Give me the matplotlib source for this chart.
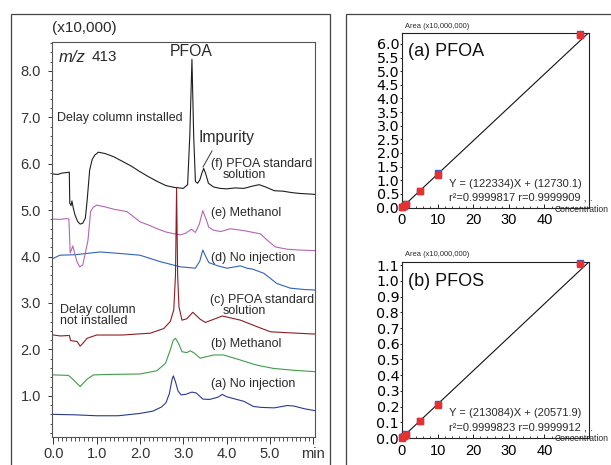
import numpy as np
import matplotlib
matplotlib.use('Agg')
import matplotlib.pyplot as plt
from matplotlib.patches import Rectangle
from matplotlib.lines import Line2D
from matplotlib.ticker import MultipleLocator, FixedLocator

plt.rcParams['font.family'] = ['Liberation Sans', 'DejaVu Sans']

# --- chromatograms, m/z 413: time (min) vs intensity (x10,000) ---
# (f) PFOA standard solution, delay column installed
f_time = [0, 0.1, 0.2, 0.3, 0.37, 0.38, 0.41, 0.43, 0.46, 0.5, 0.56, 0.62, 0.68, 0.74, 0.78,
          0.84, 0.9, 0.96, 1.04, 1.2, 1.4, 1.6, 1.8, 2.0, 2.2, 2.4, 2.6, 2.8, 3.0, 3.1, 3.15,
          3.2, 3.24, 3.28, 3.33, 3.38, 3.43, 3.47, 3.52, 3.58, 3.7, 3.85, 4.0, 4.2, 4.4, 4.6,
          4.75, 4.9, 5.1, 5.3, 5.5, 5.7, 5.9, 6.04]
f_val = [5.78, 5.77, 5.80, 5.81, 5.82, 5.15, 5.10, 5.20, 5.05, 4.90, 4.76, 4.70, 4.72, 4.83, 5.20,
         5.87, 6.10, 6.19, 6.25, 6.22, 6.15, 6.05, 5.95, 5.83, 5.72, 5.62, 5.53, 5.49, 5.47, 5.55, 6.60,
         8.25, 6.60, 5.62, 5.58, 5.65, 5.80, 5.90, 5.78, 5.58, 5.50, 5.47, 5.46, 5.48, 5.47, 5.52,
         5.55, 5.50, 5.42, 5.41, 5.38, 5.36, 5.35, 5.34]
# (e) Methanol, delay column installed
e_time = [0, 0.15, 0.3, 0.36, 0.39, 0.42, 0.45, 0.5, 0.55, 0.61, 0.68, 0.74, 0.8, 0.86, 0.92,
          1.0, 1.2, 1.4, 1.7, 2.0, 2.2, 2.4, 2.6, 2.8, 2.93, 3.05, 3.19, 3.28, 3.37, 3.45, 3.52,
          3.59, 3.7, 3.86, 4.09, 4.4, 4.78, 4.93, 5.12, 5.39, 5.7, 6.04]
e_val = [4.81, 4.80, 4.82, 4.81, 4.08, 4.15, 4.23, 4.05, 3.88, 3.78, 3.82, 4.08, 4.35, 4.97, 5.06,
         5.11, 5.07, 5.02, 4.97, 4.75, 4.68, 4.60, 4.53, 4.49, 4.47, 4.50, 4.59, 4.52, 4.70, 4.99, 4.82,
         4.63, 4.57, 4.54, 4.60, 4.56, 4.49, 4.36, 4.21, 4.16, 4.14, 4.13]
# (d) No injection, delay column installed
d_time = [0, 0.15, 0.5, 1.08, 1.5, 2.0, 2.47, 2.93, 3.28, 3.38, 3.45, 3.52, 3.59, 3.8, 4.01,
          4.32, 4.47, 4.6, 4.86, 5.16, 5.47, 5.8, 6.04]
d_val = [3.96, 4.03, 4.04, 4.10, 4.07, 4.03, 3.89, 3.78, 3.75, 3.90, 4.14, 4.00, 3.87, 3.80, 3.75,
         3.80, 3.75, 3.73, 3.64, 3.42, 3.32, 3.29, 3.28]
# (c) PFOA standard solution, delay column not installed
c_time = [0, 0.16, 0.37, 0.4, 0.55, 0.62, 0.7, 0.78, 1.0, 1.6, 2.24, 2.55, 2.7, 2.78, 2.82,
          2.845, 2.87, 2.9, 2.97, 3.08, 3.22, 3.39, 3.51, 3.9, 4.32, 4.7, 5.01, 5.4, 6.04]
c_val = [2.31, 2.29, 2.30, 2.19, 2.17, 2.07, 2.15, 2.24, 2.31, 2.31, 2.35, 2.45, 2.60, 2.85, 3.60,
         5.47, 3.60, 2.92, 2.63, 2.66, 2.80, 2.65, 2.58, 2.72, 2.63, 2.49, 2.38, 2.36, 2.33]
# (b) Methanol, delay column not installed
b_time = [0, 0.35, 0.47, 0.62, 0.78, 0.93, 1.24, 2.0, 2.39, 2.59, 2.7, 2.77, 2.82, 2.89, 2.97,
          3.08, 3.16, 3.24, 3.39, 3.7, 3.93, 4.32, 4.7, 5.08, 5.55, 6.04]
b_val = [1.45, 1.44, 1.34, 1.20, 1.36, 1.45, 1.46, 1.47, 1.54, 1.70, 1.99, 2.20, 2.24, 2.13, 1.95,
         1.93, 1.97, 1.93, 1.81, 1.88, 1.88, 1.77, 1.66, 1.59, 1.55, 1.52]
# (a) No injection, delay column not installed
a_time = [0, 0.5, 1.0, 1.5, 2.0, 2.3, 2.5, 2.6, 2.68, 2.74, 2.77, 2.82, 2.88, 2.95, 3.05, 3.2,
          3.3, 3.45, 3.6, 3.8, 3.9, 4.0, 4.2, 4.4, 4.62, 4.8, 5.1, 5.4, 5.55, 5.8, 6.04]
a_val = [0.60, 0.59, 0.57, 0.57, 0.62, 0.67, 0.76, 0.85, 1.05, 1.35, 1.43, 1.30, 1.10, 1.02, 1.03,
         1.08, 1.06, 0.93, 0.92, 0.97, 1.03, 0.98, 0.93, 0.88, 0.77, 0.75, 0.74, 0.79, 0.78, 0.72, 0.68]

chrom_xticks = [0, 1, 2, 3, 4, 5, 6]
chrom_xticklabels = ['0.0', '1.0', '2.0', '3.0', '4.0', '5.0', 'min']
chrom_yticks = [1, 2, 3, 4, 5, 6, 7, 8]

# --- calibration curves ---
conc = [0.1, 0.5, 1, 5, 10, 50]
pfoa_area_1 = [0.015, 0.07, 0.14, 0.62, 1.25, 6.35]
pfoa_area_2 = [0.012, 0.065, 0.125, 0.615, 1.21, 6.32]
pfos_area_1 = [0.004, 0.013, 0.024, 0.108, 0.216, 1.115]
pfos_area_2 = [0.003, 0.012, 0.022, 0.107, 0.212, 1.108]
pfoa_fit = (0.122334, 0.00127301)
pfos_fit = (0.0213084, 0.00205719)

W, H = 611, 465
def fx(px):
    return px / W
def fy(py):
    return 1 - py / H

fig = plt.figure(figsize=(W / 100, H / 100), dpi=100)
txt = '#2a2a2a'

# outer frames
fig.add_artist(Rectangle((fx(11), -0.05), fx(330) - fx(11), fy(14) + 0.05, transform=fig.transFigure,
                         fill=False, ec='#444444', lw=0.9))
fig.add_artist(Rectangle((fx(346), -0.05), 0.6, fy(14) + 0.05, transform=fig.transFigure,
                         fill=False, ec='#444444', lw=0.9))

# ---------------- chromatogram ----------------
ax = fig.add_axes([fx(52), fy(437), fx(315) - fx(52), fy(42) - fy(437)])
ax.plot(a_time, a_val, color='#283a8f', lw=0.8)
ax.plot(b_time, b_val, color='#3f9d4a', lw=0.8)
ax.plot(d_time, d_val, color='#3163b8', lw=0.8)
ax.plot(e_time, e_val, color='#b565b5', lw=0.8)
ax.plot(f_time, f_val, color='#1e1e1e', lw=0.8)
ax.plot(c_time, c_val, color='#8c1d24', lw=0.8)
ax.set_xlim(-0.03, 6.04)
ax.set_ylim(0.112, 8.625)
ax.xaxis.set_major_locator(FixedLocator(chrom_xticks))
ax.set_xticklabels(chrom_xticklabels)
ax.xaxis.set_minor_locator(MultipleLocator(0.1))
ax.set_yticks(chrom_yticks)
ax.set_yticklabels(['%.1f' % v for v in chrom_yticks])
ax.yaxis.set_minor_locator(MultipleLocator(0.2))
ax.tick_params(axis='x', which='major', length=5, width=0.7, pad=2, labelsize=10.5, colors='#333333')
ax.tick_params(axis='x', which='minor', length=3, width=0.6, colors='#333333')
ax.tick_params(axis='y', which='major', length=3, width=0.7, pad=5, labelsize=10.5, colors='#333333')
ax.tick_params(axis='y', which='minor', length=1.5, width=0.6, colors='#333333')
for s in ax.spines.values():
    s.set_color('#555555')
    s.set_linewidth(0.8)

fig.text(fx(52), fy(28), '(x10,000)', fontsize=11, color=txt, va='center')
fig.text(fx(59), fy(57), 'm/z', fontsize=12, style='italic', color=txt, va='center')
fig.text(fx(92), fy(57), '413', fontsize=11, color=txt, va='center')
fig.text(fx(191), fy(52), 'PFOA', fontsize=11.3, color=txt, va='center', ha='center')
fig.text(fx(57), fy(118), 'Delay column installed', fontsize=9, color=txt, va='center')
fig.text(fx(199), fy(137), 'Impurity', fontsize=11.3, color=txt, va='center')
fig.add_artist(Line2D([fx(203), fx(212)], [fy(167), fy(151)], transform=fig.transFigure,
                      color='#333333', lw=0.7))
lab = dict(fontsize=9.0, color=txt, va='center')
fig.text(fx(211), fy(164), '(f) PFOA standard', **lab)
fig.text(fx(223), fy(175), 'solution', **lab)
fig.text(fx(211), fy(213), '(e) Methanol', **lab)
fig.text(fx(211), fy(258), '(d) No injection', **lab)
fig.text(fx(210), fy(300), '(c) PFOA standard', **lab)
fig.text(fx(223), fy(311), 'solution', **lab)
fig.text(fx(60), fy(310), 'Delay column', **lab)
fig.text(fx(60), fy(321), 'not installed', **lab)
fig.text(fx(211), fy(344), '(b) Methanol', **lab)
fig.text(fx(211), fy(384), '(a) No injection', **lab)

# ---------------- calibration curves ----------------
def calib(rect, a1, a2, fit, ymax, ystep, title, eq1, eq2, yoff):
    cx = fig.add_axes(rect)
    xs = np.array([0, 52.5])
    cx.plot(xs, fit[0] * xs + fit[1], color='#111111', lw=0.8)
    cx.plot(conc, a1, 's', color='#3a5cc0', ms=4.6, clip_on=False, zorder=3)
    cx.plot(conc, a2, 's', color='#e8312f', ms=3.8, clip_on=False, zorder=4)
    cx.set_xlim(0, 52.5)
    cx.set_ylim(0, ymax)
    yt = np.round(np.arange(0, ymax + 1e-9, ystep), 2)
    cx.set_yticks(yt)
    cx.set_yticklabels(['%.1f' % v for v in yt], fontfamily='DejaVu Sans')
    cx.set_xticks([0, 10, 20, 30, 40])
    cx.xaxis.set_minor_locator(MultipleLocator(2))
    cx.tick_params(axis='x', which='major', direction='in', length=3, width=0.6, pad=4, labelsize=10.5)
    cx.tick_params(axis='x', which='minor', direction='in', length=1.5, width=0.5)
    cx.tick_params(axis='y', which='major', direction='out', length=1.5, width=0.6, pad=0.5, labelsize=10.3)
    for s in cx.spines.values():
        s.set_color('#222222')
        s.set_linewidth(0.8)
    fig.text(fx(405), fy(yoff - 7), 'Area (x10,000,000)', fontsize=5.4, color=txt, va='center')
    fig.text(fx(408), fy(yoff + 19), title, fontsize=13, color='#111111', va='center')
    fig.text(fx(449), fy(yoff + 151), eq1, fontsize=8, color=txt, va='center')
    fig.text(fx(449), fy(yoff + 165), eq2, fontsize=8, color=txt, va='center')
    fig.text(fx(555), fy(yoff + 176), 'Concentration', fontsize=6.2, color=txt, va='center')
    return cx

calib([fx(402), fy(207.5), fx(589) - fx(402), fy(33) - fy(207.5)], pfoa_area_1, pfoa_area_2, pfoa_fit,
      6.4, 0.5, '(a) PFOA', 'Y = (122334)X + (12730.1)', 'r²=0.9999817 r=0.9999909 , .', 33)
calib([fx(402), fy(438), fx(589) - fx(402), fy(262) - fy(438)], pfos_area_1, pfos_area_2, pfos_fit,
      1.12, 0.1, '(b) PFOS', 'Y = (213084)X + (20571.9)', 'r²=0.9999823 r=0.9999912 , .', 262)

fig.savefig('out.png', dpi=100)
